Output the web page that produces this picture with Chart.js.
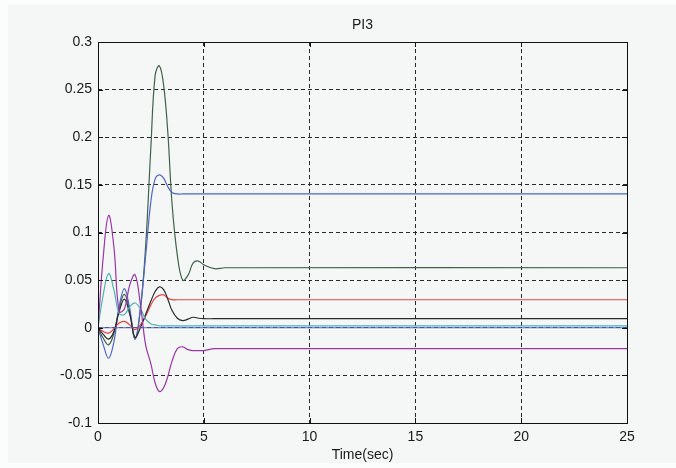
<!DOCTYPE html>
<html>
<head>
<meta charset="utf-8">
<title>PI3</title>
<script src="https://cdn.jsdelivr.net/npm/chart.js@4.4.1/dist/chart.umd.min.js"></script>
<style>
  html, body { margin: 0; padding: 0; background: #fbfcfc; }
  #wrap { width: 676px; height: 468px; }
</style>
</head>
<body>
<div id="wrap"><canvas id="chart" width="676" height="468"></canvas></div>
<script>
// time samples (sec)
let time = [0, 0.25, 0.5, 0.75, 1, 1.25, 1.5, 1.75, 2, 2.25, 2.5, 2.7, 2.9, 3.1, 3.3, 3.5, 3.75, 4, 4.25, 4.5, 4.75, 5, 5.5, 6, 25];

// responses
let yGreen   = [0, -0.011, -0.018, -0.006, 0.02, 0.035, 0.017, -0.012, 0.018, 0.085, 0.19, 0.265, 0.275, 0.255, 0.205, 0.13, 0.076, 0.05, 0.055, 0.068, 0.07, 0.066, 0.062, 0.063, 0.063];
let yBlue    = [0, -0.018, -0.032, -0.015, 0.022, 0.041, 0.02, -0.012, 0.02, 0.075, 0.133, 0.156, 0.1605, 0.157, 0.148, 0.142, 0.1405, 0.1405, 0.1405, 0.1405, 0.1405, 0.1405, 0.1405, 0.1405, 0.1405];
let yRed     = [0, -0.004, -0.0056, -0.001, 0.005, 0.0066, 0.003, -0.002, 0.003, 0.012, 0.024, 0.031, 0.034, 0.0345, 0.031, 0.0295, 0.0294, 0.0294, 0.0294, 0.0294, 0.0294, 0.0294, 0.0294, 0.0294, 0.0294];
let yBlack   = [0, -0.007, -0.012, -0.004, 0.017, 0.03, 0.014, -0.01, 0.0, 0.014, 0.028, 0.038, 0.043, 0.04, 0.03, 0.018, 0.01, 0.0075, 0.009, 0.011, 0.01, 0.0095, 0.0095, 0.0095, 0.0095];
let yCyan    = [0, 0.035, 0.057, 0.04, 0.015, 0.014, 0.022, 0.026, 0.02, 0.009, 0.004, 0.003, 0.002, 0.002, 0.002, 0.002, 0.002, 0.002, 0.002, 0.002, 0.002, 0.002, 0.002, 0.002, 0.002];
let yMagenta = [0, 0.075, 0.118, 0.085, 0.017, 0.02, 0.045, 0.0556, 0.025, -0.018, -0.038, -0.058, -0.067, -0.063, -0.051, -0.035, -0.022, -0.02, -0.023, -0.024, -0.024, -0.024, -0.022, -0.022, -0.022];
let yFlat    = [0, 0, 0, 0, 0, 0, 0, 0, 0, 0, 0, 0, 0, 0, 0, 0, 0, 0, 0, 0, 0, 0, 0, 0, 0];

let xTicks = [0, 5, 10, 15, 20, 25];
let yTicks = [-0.1, -0.05, 0, 0.05, 0.1, 0.15, 0.2, 0.25, 0.3];

let chartCanvas = document.getElementById("chart");

function pts(vals){
  return time.map(function(t, i){
    return { x: t, y: vals[i] };
  });
}

function line(vals, color){
  return {
    data: pts(vals),
    borderColor: color,
    borderWidth: 1.2,
    pointRadius: 0,
    tension: 0.4,
    fill: false
  };
}

// figure background, axes box and inward tick marks like matlab
let matlabFrame = {
  id: "matlabFrame",
  beforeDraw: function(chart){
    let ctx = chart.ctx;
    ctx.save();
    ctx.fillStyle = "#fbfcfc";
    ctx.fillRect(0, 0, chart.width, chart.height);
    ctx.fillStyle = "#f5f7f7";
    ctx.fillRect(8, 5, chart.width - 8, chart.height - 10);
    ctx.restore();
  },
  afterDatasetsDraw: function(chart){
    let ctx = chart.ctx;
    let a = chart.chartArea;
    let xs = chart.scales.x;
    let ys = chart.scales.y;
    ctx.save();
    ctx.strokeStyle = "#111";
    ctx.lineWidth = 1;
    ctx.beginPath();
    xTicks.forEach(function(v){
      let px = Math.round(xs.getPixelForValue(v)) + 0.5;
      ctx.moveTo(px, a.bottom); ctx.lineTo(px, a.bottom - 5);
      ctx.moveTo(px, a.top); ctx.lineTo(px, a.top + 5);
    });
    yTicks.forEach(function(v){
      let py = Math.round(ys.getPixelForValue(v)) + 0.5;
      ctx.moveTo(a.left, py); ctx.lineTo(a.left + 5, py);
      ctx.moveTo(a.right, py); ctx.lineTo(a.right - 5, py);
    });
    ctx.stroke();
    ctx.strokeRect(Math.round(a.left) + 0.5, Math.round(a.top) + 0.5, Math.round(a.right - a.left), Math.round(a.bottom - a.top));
    ctx.restore();
  }
};

let font = { family: "'Liberation Sans', Arial, sans-serif", size: 14, weight: "normal" };

let chart = new Chart(chartCanvas, {
  type: "line",
  data: {
    datasets: [
      line(yFlat, "#5565cc"),
      line(yMagenta, "#9a35a8"),
      line(yCyan, "#4fb3b3"),
      line(yBlack, "#2a2a2a"),
      line(yRed, "#e64545"),
      line(yBlue, "#5065c8"),
      line(yGreen, "#3f6347")
    ]
  },
  options: {
    responsive: false,
    animation: false,
    devicePixelRatio: 1,
    layout: { padding: { left: 0, right: 49, top: 0, bottom: 0 } },
    plugins: {
      legend: { display: false },
      tooltip: { enabled: false },
      title: {
        display: true,
        text: "PI3",
        fullSize: false,
        color: "#1a1a1a",
        font: font,
        padding: { top: 16.6, bottom: 8.6 }
      }
    },
    scales: {
      x: {
        type: "linear",
        min: 0,
        max: 25,
        afterBuildTicks: function(s){ s.ticks = xTicks.map(function(v){ return { value: v }; }); },
        afterFit: function(s){ s.height = 45; },
        ticks: { color: "#1a1a1a", font: font, padding: 6, maxRotation: 0 },
        grid: { color: "#2a2a2a", lineWidth: 1, drawTicks: false },
        border: { display: false, dash: [4, 3] },
        title: { display: true, text: "Time(sec)", color: "#1a1a1a", font: font, padding: { top: 2, bottom: 4.5 } }
      },
      y: {
        type: "linear",
        min: -0.1,
        max: 0.3,
        afterBuildTicks: function(s){ s.ticks = yTicks.map(function(v){ return { value: v }; }); },
        afterFit: function(s){ s.width = 98; },
        ticks: {
          color: "#1a1a1a",
          font: font,
          padding: 6,
          callback: function(v){ return String(Math.round(v * 100) / 100); }
        },
        grid: { color: "#2a2a2a", lineWidth: 1, drawTicks: false },
        border: { display: false, dash: [4, 3] }
      }
    }
  },
  plugins: [matlabFrame]
});
</script>
</body>
</html>
